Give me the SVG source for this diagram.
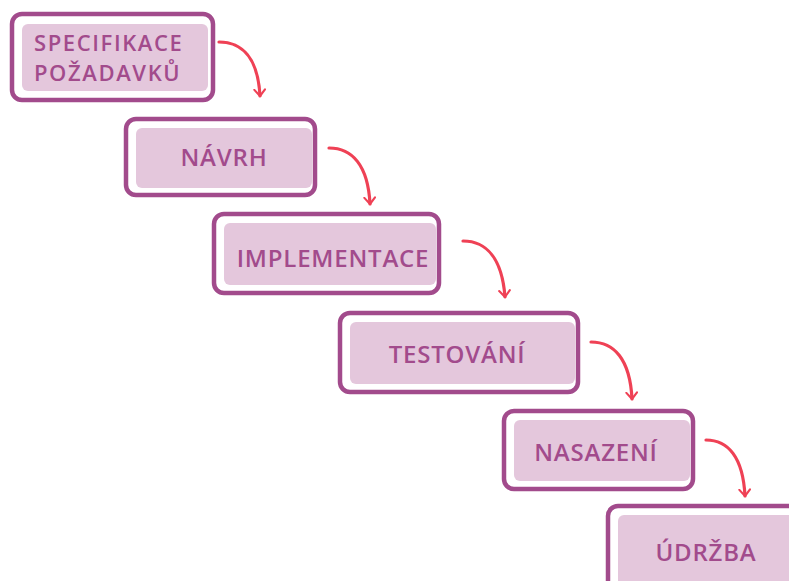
<svg xmlns="http://www.w3.org/2000/svg" width="789" height="581" viewBox="0 0 789 581">
  <defs>
    <style>
      .frame { fill: #ffffff; stroke: #a24b8c; stroke-width: 4.5; }
      .pad { fill: #e4c7dc; }
      .lbl { font-family: "Open Sans", "Liberation Sans", sans-serif; font-weight: 600; font-size: 24px; letter-spacing: 0.8px; fill: #a24b8c; }
      .lbl2 { font-size: 22px; letter-spacing: 1.6px; }
      .flow { fill: none; stroke: #ef4155; stroke-width: 3.2; stroke-linecap: round; }
    </style>
    <marker id="head" viewBox="0 0 10 12" refX="7" refY="6" markerWidth="3.4" markerHeight="4" orient="auto" markerUnits="strokeWidth">
      <path d="M1,1 L7,6 L1,11" fill="none" stroke="#ef4155" stroke-width="2" stroke-linecap="round" stroke-linejoin="round"/>
    </marker>
  </defs>
  <rect width="789" height="581" fill="#ffffff"/>

  <g id="specifikace">
    <rect class="frame" x="12" y="14" width="201" height="86" rx="10"/>
    <rect class="pad" x="22" y="24" width="186" height="67" rx="6"/>
    <text class="lbl lbl2" x="34" y="51">SPECIFIKACE</text>
    <text class="lbl lbl2" x="34" y="81">POŽADAVKŮ</text>
  </g>

  <g id="navrh">
    <rect class="frame" x="126" y="119" width="189" height="76" rx="10"/>
    <rect class="pad" x="136" y="128" width="176" height="60" rx="6"/>
    <text class="lbl" x="224" y="166" text-anchor="middle">NÁVRH</text>
  </g>

  <g id="implementace">
    <rect class="frame" x="214" y="214" width="225" height="79" rx="10"/>
    <rect class="pad" x="224" y="223" width="212" height="62" rx="6"/>
    <text class="lbl" x="333" y="267" text-anchor="middle">IMPLEMENTACE</text>
  </g>

  <g id="testovani">
    <rect class="frame" x="340" y="313" width="238" height="79" rx="10"/>
    <rect class="pad" x="350" y="322" width="225" height="62" rx="6"/>
    <text class="lbl" x="457" y="363" text-anchor="middle">TESTOVÁNÍ</text>
  </g>

  <g id="nasazeni">
    <rect class="frame" x="504" y="411" width="189" height="78" rx="10"/>
    <rect class="pad" x="514" y="420" width="176" height="61" rx="6"/>
    <text class="lbl" x="596" y="461" text-anchor="middle">NASAZENÍ</text>
  </g>

  <g id="udrzba">
    <rect class="frame" x="608" y="506" width="200" height="90" rx="10"/>
    <rect class="pad" x="618" y="515" width="190" height="80" rx="6"/>
    <text class="lbl" x="706" y="561" text-anchor="middle">ÚDRŽBA</text>
  </g>

  <g id="connectors">
    <path class="flow" marker-end="url(#head)" d="M219,42 C242,42 258,58 260,96"/>
    <path class="flow" marker-end="url(#head)" d="M329,148 C352,148 368,165 370,204"/>
    <path class="flow" marker-end="url(#head)" d="M463,241 C486,241 502,258 505,297"/>
    <path class="flow" marker-end="url(#head)" d="M591,342 C614,342 630,359 632,399"/>
    <path class="flow" marker-end="url(#head)" d="M706,440 C728,440 743,457 745,496"/>
  </g>
</svg>
